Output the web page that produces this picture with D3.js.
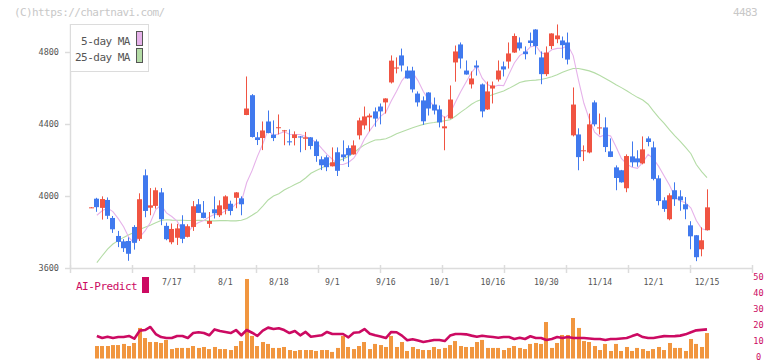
<!DOCTYPE html>
<html><head><meta charset="utf-8">
<script src="https://cdn.jsdelivr.net/npm/d3@7"></script>
<style>body{margin:0;background:#fff;} svg{display:block;}</style>
</head><body>
<svg id="chart" width="772" height="361"></svg>
<script>
// ---- data (index 0 = first trading day shown) ----
const candleOpen = [
3934,3985,3934,3978,3878,3778,3748,3750,3828,3762,
4115,3935,3945,4020,3834,3743,3768,3843,3773,3828,
3954,3908,3845,3926,3893,3926,3957,3990,3987,4450,
4560,4326,4322,4414,4341,4378,4361,4304,4322,4331,
4318,4326,4303,4204,4215,4165,4243,4231,4266,4231,
4337,4392,4437,4470,4497,4520,4631,4708,4781,4697,
4697,4569,4531,4575,4508,4481,4376,4431,4742,4842,
4697,4620,4725,4620,4481,4597,4647,4720,4747,4797,
4853,4803,4864,4925,4770,4677,4833,4871,4864,4853,
4337,4342,4250,4242,4520,4377,4381,4248,4159,4143,
4043,4220,4209,4181,4320,4270,4098,3976,3871,4032,
3998,3954,3837,3782,3704,3810];
const candleHigh = [
3938,3990,3998,3992,3889,3806,3760,3770,3838,4015,
4148,4044,4047,4044,3852,3847,3845,3893,3843,3972,
3983,3972,3911,3998,3976,4004,3974,4022,3998,4664,
4566,4355,4414,4475,4420,4453,4367,4370,4359,4333,
4356,4327,4314,4220,4226,4270,4270,4309,4281,4309,
4435,4497,4458,4492,4514,4543,4781,4770,4819,4720,
4718,4581,4553,4577,4547,4503,4442,4614,4836,4853,
4753,4692,4753,4625,4636,4636,4753,4747,4853,4903,
4881,4831,4908,4927,4803,4831,4904,4953,4886,4908,
4603,4376,4281,4458,4531,4458,4437,4320,4170,4145,
4231,4303,4254,4331,4331,4303,4115,3993,4015,4076,
4032,3994,3860,3783,3826,4037];
const candleLow = [
3933,3912,3869,3872,3795,3716,3689,3640,3702,3750,
3882,3893,3930,3838,3754,3732,3728,3738,3770,3806,
3906,3876,3823,3875,3883,3898,3893,3932,3893,4449,
4325,4283,4255,4348,4305,4342,4282,4281,4281,4243,
4255,4259,4190,4144,4138,4164,4111,4193,4161,4230,
4314,4370,4359,4385,4398,4458,4625,4681,4692,4652,
4575,4497,4395,4447,4453,4381,4254,4430,4635,4708,
4674,4597,4669,4437,4478,4514,4636,4664,4708,4795,
4808,4759,4831,4786,4621,4666,4816,4849,4766,4731,
4331,4143,4194,4237,4387,4342,4244,4216,4032,4074,
4021,4162,4163,4176,4276,4087,3948,3912,3865,3945,
3918,3871,3704,3638,3665,3808];
const candleClose = [
3937,3938,3983,3890,3815,3745,3710,3679,3740,3982,
3917,3948,4032,3871,3760,3817,3820,3762,3832,3943,
3906,3878,3861,3904,3948,3998,3917,4020,3954,4486,
4328,4311,4364,4350,4322,4382,4365,4298,4342,4325,
4326,4278,4222,4171,4160,4187,4140,4215,4226,4281,
4420,4442,4447,4430,4470,4542,4752,4714,4725,4653,
4592,4520,4415,4486,4475,4409,4387,4536,4803,4764,
4675,4653,4714,4470,4581,4614,4697,4703,4792,4889,
4820,4788,4850,4833,4677,4797,4903,4892,4838,4758,
4508,4216,4254,4398,4398,4381,4272,4217,4100,4076,
4222,4187,4187,4259,4300,4095,3972,3928,4004,3982,
3976,3926,3776,3660,3754,3937];
const ma5 = [null,
3893,3918,3933,3913,3874,3829,3768,3738,3771,3806,
3853,3924,3950,3906,3886,3860,3806,3798,3835,3853,
3864,3884,3898,3899,3918,3926,3957,3967,4075,4141,
4220,4289,4368,4335,4346,4357,4343,4342,4342,4331,
4314,4299,4264,4231,4204,4176,4175,4186,4210,4256,
4317,4363,4404,4442,4466,4528,4582,4641,4677,4687,
4641,4581,4533,4498,4461,4434,4459,4522,4580,4633,
4686,4722,4655,4619,4606,4615,4613,4677,4739,4780,
4798,4828,4836,4794,4789,4812,4820,4821,4838,4780,
4642,4515,4427,4355,4329,4341,4333,4274,4209,4177,
4160,4154,4186,4231,4206,4163,4111,4060,3996,3972,
3963,3933,3864,3818,3811];
const ma25 = [null,
3630,3668,3705,3733,3752,3770,3785,3798,3814,3826,
3838,3852,3864,3868,3866,3865,3865,3864,3864,3865,
3864,3862,3862,3863,3864,3862,3862,3865,3875,3893,
3912,3944,3978,4000,4013,4033,4048,4064,4078,4100,
4126,4142,4156,4172,4184,4195,4206,4220,4240,4264,
4284,4299,4311,4313,4318,4330,4346,4357,4368,4379,
4389,4398,4404,4408,4413,4418,4424,4443,4466,4487,
4510,4527,4538,4552,4564,4574,4583,4598,4614,4631,
4638,4642,4644,4647,4654,4663,4674,4688,4699,4708,
4708,4702,4695,4684,4670,4653,4636,4618,4602,4585,
4566,4548,4533,4510,4472,4436,4403,4367,4334,4304,
4270,4235,4175,4135,4102];
const volume = [null,
7.8,7.8,7.8,8.4,8.4,9.1,7.8,9.7,19.1,12.8,
10.3,10.3,9.7,11.6,5.9,6.6,6.6,6.6,7.8,6.6,
7.2,5.9,7.2,5.9,5.9,5.3,7.8,10.9,49.7,14.1,
7.8,10.3,9.1,6.6,6.6,7.2,5.3,4.7,5.3,5.3,
5.3,4.7,5.3,5.3,4.1,6.6,14.1,7.2,5.9,7.8,
10.3,5.9,9.1,8.4,7.2,14.1,7.2,10.3,4.7,7.2,
5.9,5.3,5.3,7.2,5.9,6.6,8.4,10.9,7.8,7.2,
7.2,10.3,11.6,6.6,6.6,6.6,5.3,6.6,7.8,6.6,
5.9,9.1,9.7,9.1,22.8,6.6,9.7,14.7,14.7,25.3,
19.1,10.9,10.3,7.8,5.3,9.1,4.7,9.1,4.7,7.2,
4.7,6.6,5.9,4.7,5.9,7.2,5.3,9.7,6.6,6.6,
4.7,12.2,9.1,7.2,15.9];
const aiPredict = [null,
14.1,12.8,13.6,12.8,13.4,13.4,14.1,12.4,17.4,17.8,
19.7,15.3,13.4,12.8,12.8,14.1,14.1,12.8,15.9,16.4,
15.9,14.5,18.2,17.2,16.6,15.9,17.8,14.5,17.8,16.1,
14.1,17.4,19.3,18.4,18.9,17.8,15.9,17.2,14.5,16.6,
13.6,14.1,14.5,16.6,15.3,15.3,15.3,13.2,16.1,16.4,
18.4,15.5,14.5,13.8,12.8,16.6,16.4,14.3,11.4,12.0,
11.2,10.3,10.9,11.6,11.6,10.9,14.3,15.3,15.3,15.1,
14.3,13.6,14.2,13.8,13.4,13.0,13.4,13.4,12.2,13.0,
12.2,13.9,12.8,12.8,11.6,12.2,13.4,12.8,13.4,12.8,
12.8,12.8,12.5,12.2,12.2,11.6,12.2,12.2,12.5,12.8,
14.0,15.1,13.4,12.8,12.8,13.4,14.0,13.9,14.0,14.3,
15.1,16.4,17.6,17.9,18.2];
const xTickLabels = ["7/17","8/1","8/18","9/1","9/16","10/1","10/16","10/30","11/14","12/1","12/15"];
const xTickIndex  = [15,25,35,45,55,65,75,85,95,105,115];
const priceTicks = [3600,4000,4400,4800];
const subTicks = [0,10,20,30,40,50];
const legendLabels = ["5-day MA","25-day MA"];

// ---- layout ----
const frameL = 70, frameR = 752, frameTop = 24;
const UP = "#f05442", DOWN = "#4079ee", MA5C = "#e6b2ea", MA25C = "#b4dca6",
      VOLC = "#f1963f", AIC = "#cc0a62", AXC = "#dcdcdc", TXT = "#555";
const mono = "'DejaVu Sans Mono', monospace";

const svg = d3.select("#chart");
const x = d3.scaleLinear().domain([0, 115]).range([91.5, 707]);
const y = d3.scaleLinear().domain([3600, 4800]).range([268, 52]);
const ys = d3.scaleLinear().domain([0, 50]).range([358.5, 278.5]);
const frameTick = d3.scaleLinear().domain([0, 11]).range([frameL, frameR]);

// copyright & code
svg.append("text").attr("x", 14).attr("y", 15.5).text("(C)https://chartnavi.com/")
  .attr("font-family", mono).attr("font-size", 11).attr("letter-spacing", -0.6).attr("fill", "#c8c8c8");
svg.append("text").attr("x", 757).attr("y", 15.5).attr("text-anchor", "end").text("4483")
  .attr("font-family", mono).attr("font-size", 11).attr("letter-spacing", -0.6).attr("fill", "#c8c8c8");

// frame
const base = y(3600);
svg.append("line").attr("x1", frameL).attr("x2", frameR).attr("y1", base + 0.5).attr("y2", base + 0.5)
  .attr("stroke", AXC).attr("stroke-width", 1.5);
svg.append("line").attr("x1", frameL + 0.5).attr("x2", frameL + 0.5).attr("y1", frameTop).attr("y2", base)
  .attr("stroke", AXC).attr("stroke-width", 1.5);
svg.append("g").selectAll("line").data(d3.range(12)).join("line")
  .attr("x1", k => Math.round(frameTick(k)) + 0.5).attr("x2", k => Math.round(frameTick(k)) + 0.5)
  .attr("y1", base - 3).attr("y2", base + 5).attr("stroke", AXC).attr("stroke-width", 1.5);

// y axis ticks/labels
const yAxis = d3.axisLeft(y).tickValues(priceTicks).tickSize(5).tickPadding(6).tickFormat(d3.format("d"));
const gy = svg.append("g").attr("transform", `translate(${frameL},0)`).call(yAxis);
gy.select(".domain").remove();
gy.selectAll(".tick line").attr("stroke", AXC).attr("stroke-width", 1.5);
gy.selectAll(".tick text").attr("font-family", mono).attr("font-size", 8.5).attr("fill", TXT);

// x labels
svg.append("g").selectAll("text").data(xTickLabels).join("text")
  .attr("x", (d, k) => x(xTickIndex[k])).attr("y", 285).attr("text-anchor", "middle")
  .attr("font-family", mono).attr("font-size", 8.2).attr("fill", TXT).text(d => d);

// moving averages
const lineGen = arr => d3.line().defined(d => d != null).x((d, i) => x(i)).y(d => y(d))(arr);
svg.append("path").attr("d", lineGen(ma25)).attr("fill", "none").attr("stroke", MA25C).attr("stroke-width", 1.1);
svg.append("path").attr("d", lineGen(ma5)).attr("fill", "none").attr("stroke", MA5C).attr("stroke-width", 1.1);

// candles
const idx = d3.range(candleOpen.length);
const left = i => Math.round(x(i) - 2.5);
const col = i => candleClose[i] >= candleOpen[i] ? UP : DOWN;
const gc = svg.append("g");
gc.selectAll("line").data(idx).join("line")
  .attr("x1", i => left(i) + 2.5).attr("x2", i => left(i) + 2.5)
  .attr("y1", i => y(candleHigh[i])).attr("y2", i => y(candleLow[i]))
  .attr("stroke", col).attr("stroke-width", 1);
gc.selectAll("rect").data(idx).join("rect")
  .attr("x", left).attr("width", 5)
  .attr("y", i => y(Math.max(candleOpen[i], candleClose[i])))
  .attr("height", i => Math.max(1, Math.abs(y(candleOpen[i]) - y(candleClose[i]))))
  .attr("fill", col);

// legend
const lg = svg.append("g");
lg.append("rect").attr("x", frameL + 0.5).attr("y", frameTop + 0.5).attr("width", 78).attr("height", 47)
  .attr("fill", "#fff").attr("stroke", AXC);
lg.selectAll("text").data(legendLabels).join("text")
  .attr("x", 130).attr("y", (d, k) => 45 + k * 16).attr("text-anchor", "end")
  .attr("font-family", mono).attr("font-size", 11).attr("letter-spacing", -0.5).attr("fill", TXT).text(d => d);
lg.selectAll("rect.sw").data([MA5C, MA25C]).join("rect").attr("class", "sw")
  .attr("x", 136.5).attr("y", (d, k) => 31.5 + k * 17).attr("width", 6).attr("height", 14)
  .attr("fill", d => d).attr("stroke", "#555");

// volume
const vIdx = d3.range(1, volume.length);
svg.append("g").selectAll("rect").data(vIdx).join("rect")
  .attr("x", i => Math.round(x(i) - 2)).attr("width", 4)
  .attr("y", i => ys(volume[i])).attr("height", i => ys(0) - ys(volume[i]))
  .attr("fill", VOLC);

// AI predict
svg.append("path").attr("d", d3.line().defined(d => d != null).x((d, i) => x(i)).y(d => ys(d))(aiPredict))
  .attr("fill", "none").attr("stroke", AIC).attr("stroke-width", 2.6).attr("stroke-linejoin", "round");
svg.append("text").attr("x", 76).attr("y", 290).text("AI-Predict")
  .attr("font-family", mono).attr("font-size", 11).attr("letter-spacing", -0.5).attr("fill", AIC);
svg.append("rect").attr("x", 142).attr("y", 277).attr("width", 7).attr("height", 16).attr("fill", AIC);

// right sub-axis labels
svg.append("g").selectAll("text").data(subTicks).join("text")
  .attr("x", 758.5).attr("y", d => ys(d) + 1.6).attr("text-anchor", "middle")
  .attr("font-family", mono).attr("font-size", 8.6).attr("fill", AIC).text(d => d);
</script>
</body></html>
